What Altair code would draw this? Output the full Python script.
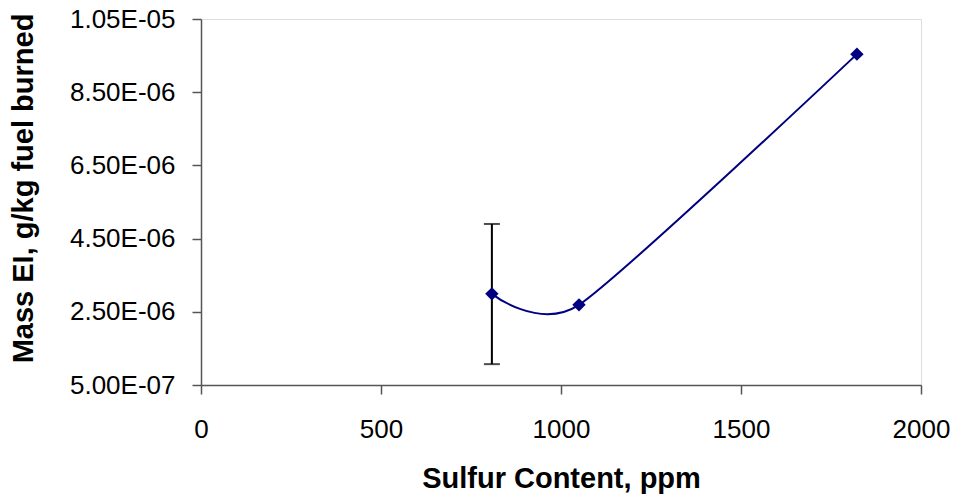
import json
import altair as alt
import pandas as pd

# Data
sulfur_ppm = [808, 1050, 1822]
mass_ei = [2.99e-6, 2.69e-6, 9.54e-6]
err_x = [808]
err_lo = [1.07e-6]
err_hi = [4.90e-6]

x_ticks = [0, 500, 1000, 1500, 2000]
y_ticks = [5.0e-7, 2.5e-6, 4.5e-6, 6.5e-6, 8.5e-6, 1.05e-5]
y_tick_labels = ["5.00E-07", "2.50E-06", "4.50E-06", "6.50E-06", "8.50E-06", "1.05E-05"]

pts = pd.DataFrame({"x": sulfur_ppm, "y": mass_ei})
err = pd.DataFrame({"x": err_x, "lo": err_lo, "hi": err_hi})

FONT = "Liberation Sans"
NAVY = "#000080"
step = y_ticks[1] - y_ticks[0]
label_expr = f"{json.dumps(y_tick_labels)}[round((datum.value - {y_ticks[0]}) / {step})]"

x_scale = alt.Scale(domain=[x_ticks[0], x_ticks[-1]], nice=False, zero=False)
y_scale = alt.Scale(domain=[y_ticks[0], y_ticks[-1]], nice=False, zero=False)

x_axis = alt.Axis(
    title="Sulfur Content, ppm", values=x_ticks, format="d", grid=False, labelFlush=False,
    labelFont=FONT, labelFontSize=26, labelColor="black", labelPadding=22,
    titleFont=FONT, titleFontSize=29, titleFontWeight="bold", titleColor="black",
    titleX=360, titleY=102, titleBaseline="alphabetic", titleAlign="center",
    domainColor="#555555", domainWidth=1.5, tickColor="#555555", tickWidth=1.5, tickSize=9,
)
y_axis = alt.Axis(
    title="Mass EI, g/kg fuel burned", values=y_ticks, labelExpr=label_expr, grid=False,
    labelFlush=False,
    labelFont=FONT, labelFontSize=26, labelColor="black", labelPadding=17,
    titleFont=FONT, titleFontSize=29, titleFontWeight="bold", titleColor="black",
    titleX=-178, titleY=169, titleAngle=-90, titleBaseline="middle", titleAlign="center",
    domainColor="#555555", domainWidth=1.5, tickColor="#555555", tickWidth=1.5, tickSize=9,
)

base = alt.Chart(pts)

line = base.mark_line(color=NAVY, strokeWidth=2, interpolate="cardinal", tension=0.35).encode(
    x=alt.X("x:Q", scale=x_scale, axis=x_axis),
    y=alt.Y("y:Q", scale=y_scale, axis=y_axis),
)

rule = alt.Chart(err).mark_rule(color="black", strokeWidth=2).encode(
    x="x:Q", y="lo:Q", y2="hi:Q"
)
cap_hi = alt.Chart(err).mark_tick(color="black", thickness=2, size=16, orient="horizontal").encode(
    x="x:Q", y="hi:Q"
)
cap_lo = alt.Chart(err).mark_tick(color="black", thickness=2, size=16, orient="horizontal").encode(
    x="x:Q", y="lo:Q"
)

points = base.mark_point(shape="diamond", filled=True, color=NAVY, size=180, opacity=1).encode(
    x="x:Q", y="y:Q"
)

chart = alt.layer(line, rule, cap_hi, cap_lo, points).properties(
    width=720,
    height=366,
    autosize=alt.AutoSizeParams(type="none"),
    padding={"left": 193, "top": 11, "right": 29, "bottom": 110},
).configure_view(stroke="#8c8c8c", strokeWidth=2).configure(background="white")

chart.save("out.html", embed_options={"renderer": "svg", "actions": False})
